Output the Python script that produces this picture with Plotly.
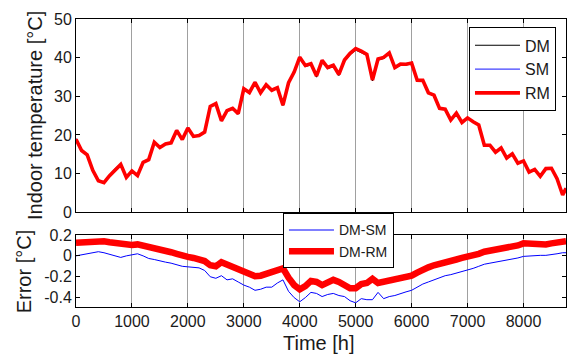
import plotly.graph_objects as go

# ---------------- data ----------------
hours = list(range(0, 8701, 100)) + [8760]

temp_dm = [19.0, 16.1, 15.0, 11.0, 8.3, 7.8, 9.6, 11.2, 12.5, 9.1,
           10.8, 9.6, 13.0, 13.7, 18.2, 16.8, 17.7, 18.0, 21.2, 18.8,
           21.8, 19.6, 19.8, 20.7, 27.3, 28.0, 23.6, 26.2, 26.8, 25.4,
           31.8, 30.8, 33.4, 30.7, 32.8, 31.4, 32.1, 27.6, 33.3, 36.0,
           39.8, 37.7, 38.2, 35.0, 39.0, 37.2, 37.8, 35.4, 39.1, 40.8,
           42.0, 41.4, 40.6, 34.0, 39.4, 39.8, 41.0, 37.2, 38.1, 38.1,
           38.4, 34.0, 34.0, 30.8, 30.2, 26.8, 26.6, 23.8, 25.6, 23.2,
           24.4, 23.4, 22.6, 17.4, 17.4, 15.6, 16.7, 14.1, 15.2, 12.8,
           13.4, 10.5, 11.2, 9.4, 11.4, 11.5, 8.8, 4.6, 6.3]

err_dm_sm = [0.00, 0.01, 0.02, 0.03, 0.04, 0.03, 0.015, 0.0, -0.015, 0.0,
             0.01, 0.02, 0.0, -0.025, -0.035, -0.05, -0.06, -0.07, -0.085, -0.1,
             -0.105, -0.11, -0.115, -0.14, -0.2, -0.215, -0.19, -0.23, -0.22, -0.25,
             -0.28, -0.3, -0.33, -0.32, -0.3, -0.3, -0.26, -0.23, -0.34, -0.4,
             -0.44, -0.4, -0.35, -0.36, -0.39, -0.37, -0.36, -0.38, -0.39, -0.43,
             -0.45, -0.41, -0.42, -0.42, -0.35, -0.41, -0.39, -0.38, -0.36, -0.345,
             -0.33, -0.3, -0.27, -0.25, -0.23, -0.21, -0.19, -0.18, -0.165, -0.15,
             -0.14, -0.12, -0.1, -0.08, -0.07, -0.06, -0.05, -0.045, -0.035, -0.02,
             -0.005, 0.0, 0.0, 0.005, 0.005, 0.01, 0.02, 0.03, 0.03]

err_dm_rm = [0.125, 0.13, 0.14, 0.145, 0.15, 0.14, 0.13, 0.125, 0.11, 0.10,
             0.105, 0.11, 0.10, 0.085, 0.07, 0.055, 0.05, 0.035, 0.02, 0.0,
             -0.01, -0.02, -0.04, -0.05, -0.09, -0.1, -0.06, -0.08, -0.105, -0.13,
             -0.155, -0.17, -0.195, -0.19, -0.17, -0.165, -0.14, -0.12, -0.21, -0.28,
             -0.32, -0.29, -0.24, -0.25, -0.28, -0.25, -0.23, -0.25, -0.28, -0.31,
             -0.31, -0.27, -0.26, -0.22, -0.26, -0.25, -0.24, -0.23, -0.22, -0.21,
             -0.19, -0.16, -0.13, -0.11, -0.09, -0.08, -0.06, -0.045, -0.035, -0.02,
             -0.01, 0.005, 0.02, 0.04, 0.05, 0.055, 0.065, 0.07, 0.085, 0.1,
             0.12, 0.115, 0.11, 0.11, 0.11, 0.12, 0.13, 0.135, 0.14]

# the SM and RM temperatures follow from DM and the plotted errors
temp_sm = [d - e for d, e in zip(temp_dm, err_dm_sm)]
temp_rm = [d - e for d, e in zip(temp_dm, err_dm_rm)]

x_ticks = [0, 1000, 2000, 3000, 4000, 5000, 6000, 7000, 8000]
y1_ticks = [0, 10, 20, 30, 40, 50]
y2_ticks = [-0.4, -0.2, 0, 0.2]
y2_labels = ["-0.4", "-0.2", "0", "0.2"]

FONT = "Liberation Sans, Arial, sans-serif"
TXT = "#1a1a1a"

fig = go.Figure()
fig.add_trace(go.Scatter(x=hours, y=temp_dm, name="DM", mode="lines",
                         line=dict(color="black", width=1.2),
                         xaxis="x", yaxis="y", legend="legend"))
fig.add_trace(go.Scatter(x=hours, y=temp_sm, name="SM", mode="lines",
                         line=dict(color="#4040ff", width=1.2),
                         xaxis="x", yaxis="y", legend="legend"))
fig.add_trace(go.Scatter(x=hours, y=temp_rm, name="RM", mode="lines",
                         line=dict(color="#ff0000", width=3.6),
                         xaxis="x", yaxis="y", legend="legend"))
fig.add_trace(go.Scatter(x=hours, y=err_dm_sm, name="DM-SM", mode="lines",
                         line=dict(color="#0000ff", width=1),
                         xaxis="x2", yaxis="y2", legend="legend2"))
fig.add_trace(go.Scatter(x=hours, y=err_dm_rm, name="DM-RM", mode="lines",
                         line=dict(color="#ff0000", width=6.5),
                         xaxis="x2", yaxis="y2", legend="legend2"))

xcommon = dict(range=[0, 8760], tickvals=x_ticks, showgrid=True,
               gridcolor="#a0a0a0", gridwidth=1, ticks="inside", ticklen=4,
               tickcolor="black", showline=True, linecolor="black",
               linewidth=1, mirror="allticks", zeroline=False,
               tickfont=dict(family=FONT, size=16, color=TXT))
ycommon = dict(showgrid=False, ticks="inside", ticklen=4, tickcolor="black",
               showline=True, linecolor="black", linewidth=1,
               mirror="allticks", zeroline=False,
               tickfont=dict(family=FONT, size=16, color=TXT))

fig.update_layout(
    width=567, height=356,
    margin=dict(l=76, r=1, t=19, b=49),
    paper_bgcolor="white", plot_bgcolor="white",
    font=dict(family=FONT, color=TXT),
    xaxis=dict(xcommon, domain=[0, 1], anchor="y", showticklabels=False),
    yaxis=dict(ycommon, domain=[0.329, 1], range=[0, 50], tickvals=y1_ticks),
    xaxis2=dict(xcommon, domain=[0, 1], anchor="y2"),
    yaxis2=dict(ycommon, domain=[0, 0.25], range=[-0.49, 0.2],
                tickvals=y2_ticks, ticktext=y2_labels),
    legend=dict(x=0.802, y=0.971, xanchor="left", yanchor="top",
                bgcolor="white", bordercolor="black", borderwidth=1,
                font=dict(family=FONT, size=16, color=TXT),
                itemwidth=45, tracegroupgap=0),
    legend2=dict(x=0.4224, y=0.325, xanchor="left", yanchor="top",
                 bgcolor="white", bordercolor="black", borderwidth=1,
                 font=dict(family=FONT, size=14, color=TXT),
                 itemwidth=45, tracegroupgap=0),
    showlegend=True,
    annotations=[
        dict(text="Indoor temperature [°C]", xref="paper", yref="paper",
             x=(35 - 76) / 490, y=(306.7 - 115.7) / 288, textangle=-90,
             xanchor="center", yanchor="middle", showarrow=False,
             font=dict(family=FONT, size=20, color=TXT)),
        dict(text="Error [°C]", xref="paper", yref="paper",
             x=(24 - 76) / 490, y=(306.7 - 271) / 288, textangle=-90,
             xanchor="center", yanchor="middle", showarrow=False,
             font=dict(family=FONT, size=20, color=TXT)),
        dict(text="Time [h]", xref="paper", yref="paper",
             x=(319 - 76) / 490, y=(306.7 - 343) / 288,
             xanchor="center", yanchor="middle", showarrow=False,
             font=dict(family=FONT, size=20, color=TXT)),
    ],
)

fig.write_html("out.html")
